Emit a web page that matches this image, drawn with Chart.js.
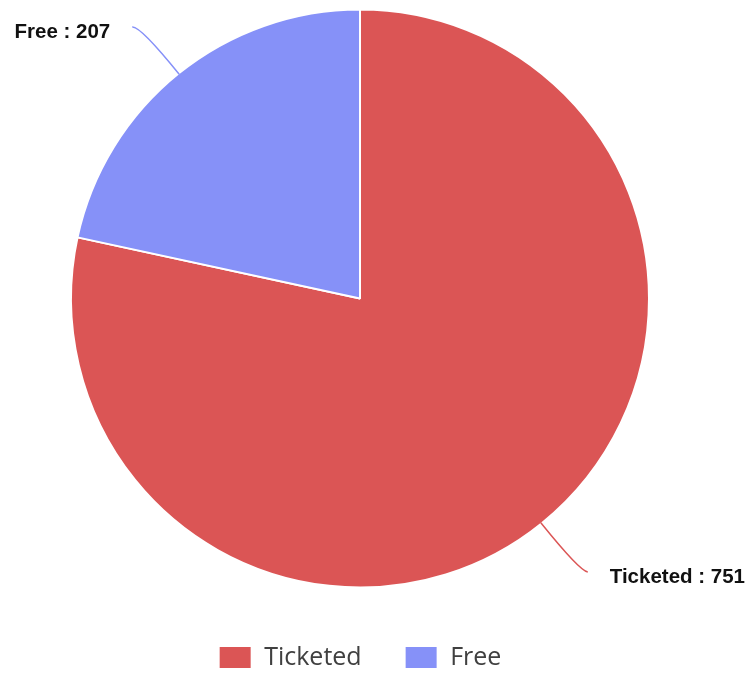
<!DOCTYPE html>
<html>
<head>
<meta charset="utf-8">
<title>Ticketed vs Free</title>
<script src="https://cdn.jsdelivr.net/npm/chart.js@4/dist/chart.umd.min.js"></script>
<style>
    html, body { margin: 0; padding: 0; background: #ffffff; }
    canvas { display: block; }
</style>
</head>
<body>
<canvas id="eventsChart" width="746" height="673"></canvas>
<script>
const labels = ['Ticketed', 'Free'];
const counts = [751, 207];
const colors = ['#DB5555', '#8691F8'];

// leader line + "Name : value" label for each slice
const sliceLabels = {
    id: 'sliceLabels',
    afterDatasetsDraw(chart) {
        const ctx = chart.ctx;
        const meta = chart.getDatasetMeta(0);
        ctx.save();
        meta.data.forEach((arc, i) => {
            const mid = (arc.startAngle + arc.endAngle) / 2;
            const dx = Math.cos(mid);
            const dy = Math.sin(mid);
            const side = dx >= 0 ? 1 : -1;
            const r = arc.outerRadius - 1;
            const x0 = arc.x + dx * r;
            const y0 = arc.y + dy * r;
            const cx = x0 + dx * 62;
            const cy = y0 + dy * 62;
            const x1 = cx + side * 8;
            const y1 = cy + 1;

            ctx.beginPath();
            ctx.moveTo(x0, y0);
            ctx.quadraticCurveTo(cx, cy, x1, y1);
            ctx.strokeStyle = colors[i];
            ctx.lineWidth = 1.5;
            ctx.stroke();

            ctx.font = 'bold 20.5px "Liberation Sans", Arial, sans-serif';
            ctx.fillStyle = '#111111';
            ctx.textBaseline = 'middle';
            ctx.textAlign = side > 0 ? 'left' : 'right';
            ctx.fillText(labels[i] + ' : ' + counts[i], x1 + side * 22, y1 + 5);
        });
        ctx.restore();
    }
};

const ctx = document.getElementById('eventsChart').getContext('2d');
new Chart(ctx, {
    type: 'pie',
    data: {
        labels: labels,
        datasets: [{
            data: counts,
            backgroundColor: colors,
            borderColor: '#ffffff',
            borderWidth: 2,
            radius: 289
        }]
    },
    options: {
        responsive: false,
        animation: false,
        layout: {
            padding: { top: 0, bottom: -7, left: 0, right: 26 }
        },
        plugins: {
            tooltip: { enabled: false },
            legend: {
                position: 'bottom',
                // empty title only adds a little space above the items
                title: {
                    display: true,
                    text: '',
                    padding: 0,
                    font: { size: 5, lineHeight: 1 }
                },
                labels: {
                    boxWidth: 33,
                    boxHeight: 23,
                    padding: 43,
                    color: '#404040',
                    font: { family: '"Open Sans", "Noto Sans", sans-serif', size: 25 }
                }
            }
        }
    },
    plugins: [sliceLabels]
});
</script>
</body>
</html>
